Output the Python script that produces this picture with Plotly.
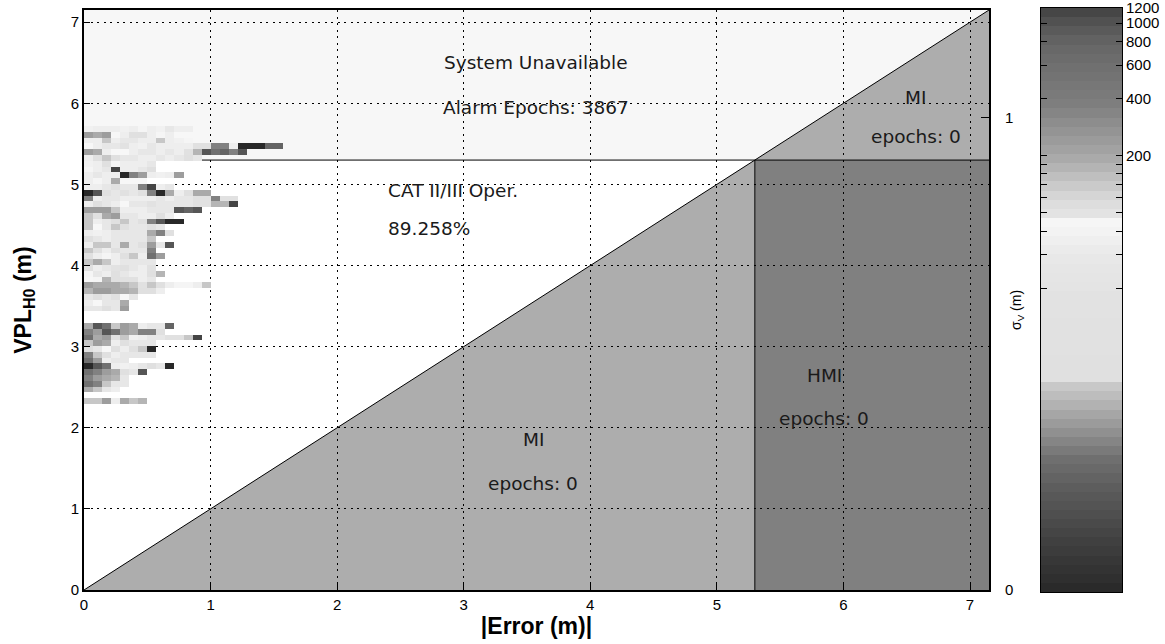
import math
import plotly.graph_objects as go

# ---- axis and limit settings -------------------------------------------
AXIS_MAX = 7.15          # both axes run 0 .. AXIS_MAX metres
VAL = 5.3                # vertical alert limit (m)
K_SIGMA = 5.825          # VPL = K * sigma_V
N_BINS = 100             # histogram bins across each axis
CBAR_MAX = 1200          # top of the epoch-count colour scale
N_BANDS = 64             # discrete steps of the grey colour map

x_ticks = [0, 1, 2, 3, 4, 5, 6, 7]
y_ticks = [0, 1, 2, 3, 4, 5, 6, 7]
sigma_ticks = [0, 1]
cbar_labelled = [200, 400, 600, 800, 1000, 1200]
cbar_minor = [40, 60, 80, 100, 120, 140, 160, 180]

# ---- 2-D histogram of (|error|, VPL) epoch counts ----------------------
# key: VPL bin index, value: counts per |error| bin starting at bin 0
hist_rows = {
    79: [75, 70, 70, 70, 75, 70, 85, 70, 75, 55, 70, 70],
    78: [8, 9, 8, 92, 70, 14, 14, 70, 85, 70],
    77: [70, 70, 12, 70, 55, 55, 70, 70, 12, 70, 75, 85],
    76: [92, 70, 55, 55, 35, 70, 75, 55, 70, 70, 70, 70, 20, 20, 6, 6, 70, 1, 1, 1, 4, 4],
    75: [8, 9, 70, 92, 92, 70, 55, 55, 70, 55, 70, 20, 10, 3, 5, 4, 6, 3],
    74: [70, 14, 12, 14, 55, 55, 70, 70, 55, 70, 55, 14, 55],
    73: [75, 70, 14, 85, 70, 70, 70, 55],
    72: [85, 70, 55, 2, 70, 70, 55, 14],
    71: [70, 55, 70, 70, 1, 6, 8, 70, 75, 70, 8],
    70: [70, 85, 70, 9, 92, 92, 92],
    69: [70, 70, 55, 20, 55, 55, 6, 2, 70, 55],
    68: [1, 3, 20, 55, 20, 55, 14, 6, 1, 9, 70, 14, 9, 9],
    67: [6, 70, 55, 55, 70, 70, 70, 70, 55, 70, 55, 55, 20, 20, 6, 20, 20],
    66: [70, 14, 55, 70, 92, 55, 55, 35, 55, 55, 55, 55, 20, 20, 10, 10, 2],
    65: [8, 8, 8, 12, 70, 70, 70, 55, 55, 55, 3, 4, 3],
    64: [12, 14, 9, 8, 55, 55, 70, 70, 14, 70],
    63: [12, 70, 55, 14, 12, 55, 14, 6, 3, 1, 1],
    62: [12, 92, 55, 12, 14, 55, 55, 14, 55],
    61: [70, 75, 70, 55, 55, 55, 55, 9, 6, 14],
    60: [14, 55, 70, 55, 55, 55, 55, 12],
    59: [70, 12, 12, 55, 9, 55, 14, 8, 55, 3],
    58: [12, 14, 70, 14, 55, 55, 55, 6],
    57: [14, 70, 85, 70, 14, 12, 70, 5, 8],
    56: [12, 9, 12, 70, 55, 55, 55, 55],
    55: [14, 70, 55, 35, 14, 55, 70, 20],
    54: [85, 55, 70, 14, 55, 70, 70, 14, 10],
    53: [92, 85, 10, 14, 20, 20, 70, 55],
    52: [8, 9, 9, 9, 10, 12, 20, 12, 14, 70, 85, 85, 70, 12],
    51: [10, 8, 8, 9, 9, 10, 14, 14, 70],
    50: [55, 14, 55, 20, 92, 55],
    49: [70, 92, 55, 55, 9],
    48: [55, 55, 14, 55, 8],
    47: [],
    46: [],
    45: [9, 3, 5, 12, 8, 9, 70, 55, 55, 4],
    44: [6, 8, 3, 5, 8, 9, 6, 6, 14],
    43: [5, 9, 8, 14, 12, 75, 70, 55, 55, 20, 20, 12, 2],
    42: [12, 8, 9, 70, 14, 55, 55, 55],
    41: [14, 55, 92, 14, 70, 14, 12, 1],
    40: [6, 12, 14, 70, 55, 55, 55, 55],
    39: [5, 8, 70, 55, 55],
    38: [1, 3, 5, 70, 75, 70, 55, 14, 55, 1],
    37: [5, 6, 8, 9, 14, 55, 3],
    36: [6, 8, 9, 10, 55],
    35: [5, 6, 12, 55, 55],
    34: [9, 12, 55, 70],
    33: [],
    32: [12, 12, 8, 70, 9, 12, 10],
}

# ---- build heatmap grid ---------------------------------------------------
bin_w = AXIS_MAX / N_BINS
row_ids = sorted(hist_rows)
n_cols = max(len(v) for v in hist_rows.values())
z = []
for r in row_ids:
    counts = hist_rows[r]
    line = []
    for c in range(n_cols):
        if c < len(counts) and counts[c] > 0:
            line.append(math.log10(counts[c]))
        else:
            line.append(None)
    z.append(line)
x_centres = [(c + 0.5) * bin_w for c in range(n_cols)]
y_centres = [(r + 0.5) * bin_w for r in row_ids]

zmax = math.log10(CBAR_MAX)


def g(v):
    return f"rgb({v},{v},{v})"


# grey map: dark at low counts, light mid-range, darker again at high counts
colorscale = [
    [0.000, g(40)], [0.072, g(60)], [0.124, g(76)], [0.176, g(92)],
    [0.228, g(112)], [0.262, g(136)], [0.297, g(160)], [0.331, g(186)],
    [0.357, g(204)], [0.366, g(224)], [0.503, g(226)], [0.572, g(232)],
    [0.640, g(248)], [0.645, g(228)], [0.676, g(216)], [0.693, g(204)],
    [0.714, g(189)], [0.745, g(168)], [0.797, g(144)], [0.841, g(124)],
    [0.900, g(112)], [0.938, g(102)], [0.971, g(85)], [1.000, g(64)],
]

# colour-bar strip: one cell per band of the colour map
band_h = zmax / N_BANDS
band_levels = [(i + 0.5) * band_h for i in range(N_BANDS)]

FONT = "Liberation Sans, Arial, sans-serif"
LABEL_FONT = "DejaVu Sans, Verdana, sans-serif"

# ---- page geometry (pixels) --------------------------------------------
W, H = 1165, 644
ML, MR, MT, MB = 84, 43, 8, 52
paper_w = W - ML - MR
paper_h = H - MT - MB
plot_right_px = 989
plot_top_px, plot_bot_px = 10, 590
cbar_left_px = 1041

main_x_dom = [0, (plot_right_px - ML) / paper_w]
main_y_dom = [(H - MB - plot_bot_px) / paper_h, (H - MB - plot_top_px) / paper_h]
cbar_x_dom = [(cbar_left_px - ML) / paper_w, 1.0]

fig = go.Figure()
fig.add_trace(go.Heatmap(
    x=x_centres, y=y_centres, z=z,
    zmin=0, zmax=zmax,
    colorscale=colorscale, showscale=False,
    hoverongaps=False, xaxis="x", yaxis="y",
))

# invisible trace that carries the sigma_V axis on the right
fig.add_trace(go.Scatter(x=[0], y=[0], xaxis="x", yaxis="y2", mode="markers",
                         marker=dict(opacity=0), showlegend=False,
                         hoverinfo="skip"))

# colour bar drawn as its own banded strip
fig.add_trace(go.Heatmap(
    x=[0], y=band_levels, z=[[v] for v in band_levels],
    zmin=0, zmax=zmax, colorscale=colorscale, showscale=False,
    xaxis="x2", yaxis="y3", hoverinfo="skip",
))

# ---- Stanford-diagram regions -----------------------------------------------
M = AXIS_MAX
shapes = [
    # system unavailable band (VPL above the alert limit)
    dict(type="path", path=f"M 0 {VAL} L 0 {M} L {M} {M} L {VAL} {VAL} Z",
         fillcolor="#f7f7f7", line=dict(width=0), layer="below"),
    # misleading information, below the diagonal and left of VAL
    dict(type="path", path=f"M 0 0 L {VAL} 0 L {VAL} {VAL} Z",
         fillcolor="#adadad", line=dict(width=0), layer="below"),
    # misleading information above the alert limit
    dict(type="path", path=f"M {VAL} {VAL} L {M} {VAL} L {M} {M} Z",
         fillcolor="#adadad", line=dict(width=0), layer="below"),
    # hazardously misleading information
    dict(type="rect", x0=VAL, x1=M, y0=0, y1=VAL,
         fillcolor="#808080", line=dict(width=0), layer="below"),
    # boundary lines
    dict(type="line", x0=0, y0=0, x1=M, y1=M,
         line=dict(color="black", width=1), layer="below"),
    dict(type="line", x0=0, y0=VAL, x1=M, y1=VAL,
         line=dict(color="black", width=1), layer="below"),
    dict(type="line", x0=VAL, y0=0, x1=VAL, y1=VAL,
         line=dict(color="black", width=1), layer="below"),
]
for s in shapes:
    s.update(xref="x", yref="y")

txt = dict(family=LABEL_FONT, size=18.5, color="#1a1a1a")
annotations = [
    dict(x=3.57, y=6.50, text="System Unavailable"),
    dict(x=3.57, y=5.95, text="Alarm Epochs: 3867"),
    dict(x=2.385, y=4.93, text="CAT II/III Oper.", xanchor="left"),
    dict(x=2.385, y=4.46, text="89.258%", xanchor="left"),
    dict(x=3.55, y=1.85, text="MI"),
    dict(x=3.55, y=1.31, text="epochs: 0"),
    dict(x=5.85, y=2.64, text="HMI"),
    dict(x=5.85, y=2.11, text="epochs: 0"),
    dict(x=6.57, y=6.07, text="MI"),
    dict(x=6.57, y=5.59, text="epochs: 0"),
]
for a in annotations:
    a.update(xref="x", yref="y", showarrow=False, font=txt)
    a.setdefault("xanchor", "center")

# sigma_V axis title, placed beside its tick labels
annotations.append(dict(
    xref="paper", yref="paper", xanchor="center", yanchor="middle",
    x=(1017 - ML) / paper_w, y=(H - MB - 310) / paper_h,
    text="σ<sub>V</sub> (m)", textangle=-90, showarrow=False,
    font=dict(family=FONT, size=14, color="black"),
))

axis_common = dict(
    range=[0, M], tickmode="array",
    ticks="inside", ticklen=6, tickcolor="black",
    showgrid=True, gridcolor="black", gridwidth=1, griddash="2px,4.5px",
    showline=True, linecolor="black", linewidth=2, mirror=True,
    zeroline=False,
    tickfont=dict(family=FONT, size=15, color="black"),
)

fig.update_layout(
    width=W, height=H,
    margin=dict(l=ML, r=MR, t=MT, b=MB, autoexpand=False),
    paper_bgcolor="white", plot_bgcolor="white",
    showlegend=False,
    shapes=shapes,
    annotations=annotations,
    xaxis=dict(axis_common, tickvals=x_ticks, domain=main_x_dom, anchor="y",
               title=dict(text="<b>|Error (m)|</b>", standoff=2,
                          font=dict(family=FONT, size=23, color="black"))),
    yaxis=dict(axis_common, tickvals=y_ticks, domain=main_y_dom, anchor="x",
               title=dict(text="<b>VPL<sub>H0</sub> (m)</b>", standoff=33,
                          font=dict(family=FONT, size=23, color="black"))),
    yaxis2=dict(overlaying="y", side="right", anchor="x",
                range=[0, M / K_SIGMA],
                tickmode="array", tickvals=sigma_ticks,
                ticks="inside", ticklen=8, tickcolor="black",
                ticklabelstandoff=15,
                showgrid=False, zeroline=False, showline=False,
                tickfont=dict(family=FONT, size=15, color="black")),
    # colour-bar axes
    xaxis2=dict(domain=cbar_x_dom, anchor="y3", range=[-0.5, 0.5],
                showticklabels=False, ticks="", showgrid=False,
                zeroline=False, showline=True, linecolor="black",
                linewidth=1, mirror=True, fixedrange=True),
    yaxis3=dict(domain=[0, 1], anchor="x2", side="right",
                range=[0, zmax + 1e-6], tickmode="array",
                tickvals=[math.log10(v) for v in cbar_labelled],
                ticktext=[str(v) for v in cbar_labelled],
                ticklabeloverflow="allow",
                ticks="inside", ticklen=6, tickcolor="black",
                minor=dict(tickvals=[math.log10(v) for v in cbar_minor],
                           ticks="inside", ticklen=6, tickcolor="black",
                           showgrid=False),
                showgrid=False, zeroline=False,
                showline=True, linecolor="black", linewidth=1,
                mirror="ticks", fixedrange=True,
                tickfont=dict(family=FONT, size=15, color="black")),
)

fig.write_html("out.html")
